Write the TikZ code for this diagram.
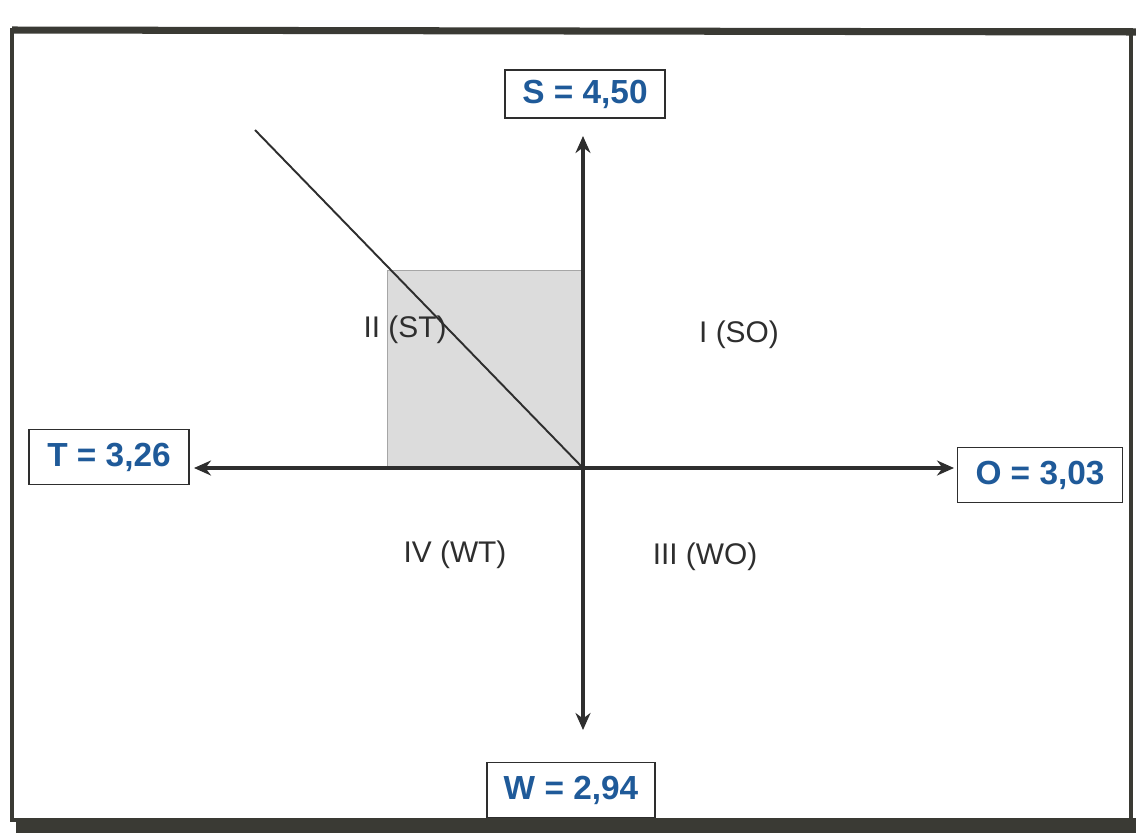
\documentclass[tikz,border=0pt]{standalone}
\usepackage{fontspec}
\setmainfont{Liberation Sans}
\usetikzlibrary{positioning,arrows.meta}
\definecolor{valblue}{HTML}{1F5A99}
\definecolor{ink}{HTML}{2E2E2E}
\definecolor{shade}{HTML}{DCDCDC}
\definecolor{frameink}{HTML}{3A3A34}

\begin{document}
\begin{tikzpicture}[
  x=0.02cm, y=-0.02cm,
  >={Stealth[length=3.4mm, width=3mm]},
  valbox/.style ={draw=ink, line width=1pt, fill=white, text=valblue,
                  font=\fontsize{19}{21}\selectfont\bfseries,
                  minimum width=3.2cm, minimum height=1.1cm, inner sep=4pt},
  quad/.style   ={text=ink, font=\fontsize{17}{19}\selectfont},
  axis/.style   ={<->, draw=ink, line width=2pt},
]
  \useasboundingbox (0,0) rectangle (1136,839);

  % --- marco ---
  \fill[frameink] (16,818) rectangle (1136,833);
  \draw[frameink, line width=2pt] (12,30) rectangle (1131,820);
  \draw[frameink, line width=4pt] (12,30) -- (1136,32);

  % --- cuadrante ST sombreado ---
  \filldraw[fill=shade, draw=gray!70, line width=0.5pt] (387,270) rectangle (583,468);

  % --- ejes ---
  \coordinate (o)     at (583,468);
  \coordinate (up)    at (583,136);
  \coordinate (down)  at (583,730);
  \coordinate (left)  at (194,468);
  \coordinate (right) at (954,468);
  \coordinate (tip)   at (255,130);

  \draw[axis] (up)   -- (down);
  \draw[axis] (left) -- (right);
  \draw[ink, line width=1.1pt] (tip) -- (o);

  % --- valores ---
  \node[valbox, minimum height=0.95cm] (sval) at (585,94)   {S = 4,50};
  \node[valbox]                        (tval) at (109,457)  {T = 3,26};
  \node[valbox, minimum width=3.3cm]   (oval) at (1040,475) {O = 3,03};
  \node[valbox, minimum width=3.35cm]  (wval) at (571,790)  {W = 2,94};

  % --- cuadrantes ---
  \node[quad] (st) at (405,330) {II (ST)};
  \node[quad] (so) at (739,335) {I (SO)};
  \node[quad] (wt) at (455,555) {IV (WT)};
  \node[quad] (wo) at (705,557) {III (WO)};
\end{tikzpicture}
\end{document}
